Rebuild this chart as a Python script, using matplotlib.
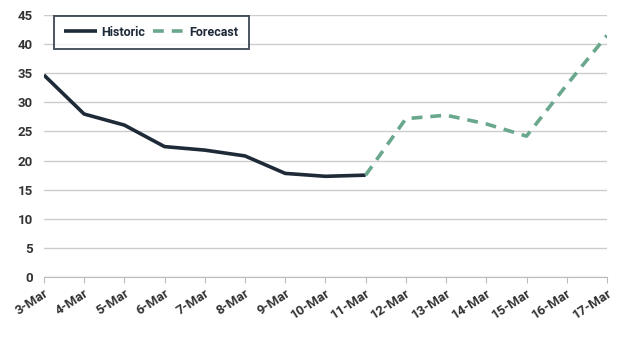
import matplotlib.pyplot as plt

# Data
dates = ['3-Mar', '4-Mar', '5-Mar', '6-Mar', '7-Mar', '8-Mar', '9-Mar', '10-Mar',
         '11-Mar', '12-Mar', '13-Mar', '14-Mar', '15-Mar', '16-Mar', '17-Mar']
historic = [34.7, 28.0, 26.1, 22.4, 21.8, 20.8, 17.8, 17.3, 17.5]
forecast = [17.5, 27.2, 27.8, 26.3, 24.2, 33.0, 41.5]
yticks = [0, 5, 10, 15, 20, 25, 30, 35, 40, 45]

plt.rcParams['font.family'] = ['Roboto', 'DejaVu Sans']
plt.rcParams['font.weight'] = 'bold'

fig = plt.figure(figsize=(6.27, 3.42), dpi=100)
ax = fig.add_axes([0.070, 0.19, 0.898, 0.766])

x = list(range(len(dates)))
ax.plot(x[:len(historic)], historic, color='#1e2a38', lw=2.6, label='Historic',
        solid_capstyle='butt', solid_joinstyle='round')
ax.plot(x[len(historic) - 1:], forecast, color='#6aa88e', lw=2.6, ls=(0, (3, 2.2)),
        label='Forecast')

ax.set_xlim(0, len(dates) - 1)
ax.set_ylim(0, 45)
ax.set_yticks(yticks)
ax.set_xticks(x)
ax.set_xticklabels(dates, rotation=33, ha='right', rotation_mode='anchor')
ax.grid(axis='y', color='#cccccc', lw=1)
ax.set_axisbelow(True)
for s in ['top', 'right', 'left']:
    ax.spines[s].set_visible(False)
ax.spines['bottom'].set_color('#bbbbbb')
ax.tick_params(axis='y', length=0, pad=8, labelsize=9.5, labelcolor='#333333')
ax.tick_params(axis='x', length=4, color='#bbbbbb', pad=3, labelsize=9.5,
               labelcolor='#333333')

leg = ax.legend(loc='upper left', bbox_to_anchor=(0.012, 1.012), ncol=2, frameon=True,
                fancybox=False, edgecolor='#1e2a38', fontsize=9, handlelength=2.6,
                columnspacing=0.6, handletextpad=0.35, borderpad=0.8,
                borderaxespad=0.3)
leg.get_frame().set_linewidth(1.4)
for t in leg.get_texts():
    t.set_color('#1e2a38')

fig.savefig('out.png', dpi=100)
